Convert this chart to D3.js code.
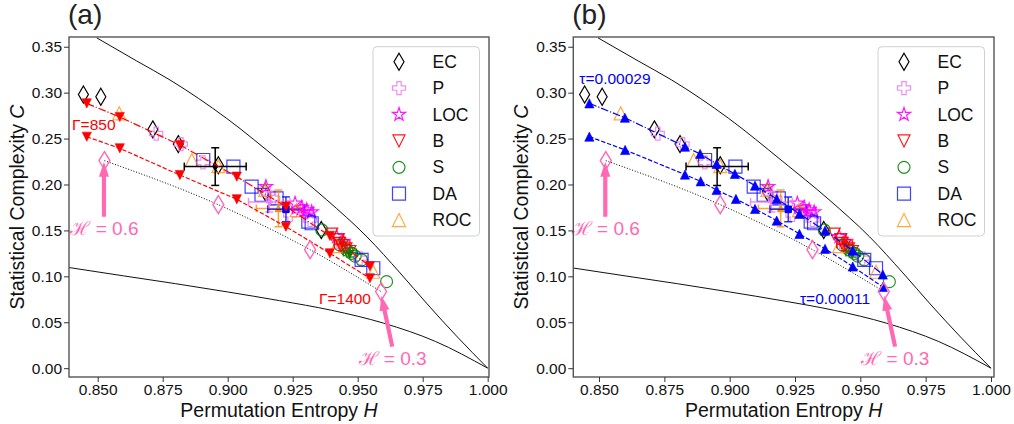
<!DOCTYPE html>
<html><head><meta charset="utf-8">
<script src="https://cdn.jsdelivr.net/npm/d3@7"></script>
<style>
body{margin:0;background:#fff;}
svg{display:block;}
text{font-family:"Liberation Sans",Arial,Helvetica,sans-serif;}
</style>
</head><body>
<svg id="chart" width="1014" height="424"></svg>
<script>
// ---------------- DATA ----------------
const xTicks = [0.850, 0.875, 0.900, 0.925, 0.950, 0.975, 1.000];
const yTicks = [0.00, 0.05, 0.10, 0.15, 0.20, 0.25, 0.30, 0.35];

// theoretical boundary curves
const maxH = [0.8496, 0.8650, 0.8778, 0.8996, 0.9201, 0.9380, 0.9536, 0.9663, 0.9767, 0.9880, 1.0000];
const maxC = [0.3597, 0.3345, 0.3138, 0.2720, 0.2256, 0.1835, 0.1429, 0.1037, 0.0700, 0.0350, 0.0000];
const minH = [0.8380, 0.8600, 0.8800, 0.9000, 0.9200, 0.9400, 0.9600, 0.9800, 1.0000];
const minC = [0.1100, 0.1005, 0.0920, 0.0830, 0.0735, 0.0630, 0.0490, 0.0290, 0.0000];

// reference (pink) points on dotted curve
const refH = [0.8526, 0.8964, 0.9317, 0.9590];
const refC = [0.2260, 0.1780, 0.1290, 0.0834];

// experimental classes
const classes = ["EC", "P", "LOC", "B", "S", "DA", "ROC"];
const EC_H  = [0.8445, 0.8512, 0.8712, 0.8810, 0.8964, 0.9144, 0.9360];
const EC_C  = [0.2980, 0.2956, 0.2600, 0.2440, 0.2210, 0.1920, 0.1505];
const P_H   = [0.8725, 0.8820, 0.8905, 0.9155, 0.9175, 0.9240, 0.9300, 0.9317, 0.9445, 0.9509];
const P_C   = [0.2555, 0.2440, 0.2241, 0.1905, 0.1850, 0.1668, 0.1700, 0.1614, 0.1323, 0.1197];
const LOC_H = [0.9147, 0.9259, 0.9285, 0.9304, 0.9323, 0.9419, 0.9445];
const LOC_C = [0.1976, 0.1795, 0.1750, 0.1723, 0.1700, 0.1432, 0.1378];
const B_H   = [0.9400, 0.9425, 0.9430, 0.9440, 0.9455, 0.9470];
const B_C   = [0.1460, 0.1400, 0.1360, 0.1335, 0.1300, 0.1270];
const S_H   = [0.9362, 0.9432, 0.9458, 0.9477, 0.9490, 0.9515, 0.9611];
const S_C   = [0.1505, 0.1340, 0.1287, 0.1250, 0.1220, 0.1180, 0.0942];
const DA_H  = [0.8906, 0.9022, 0.9092, 0.9130, 0.9188, 0.9310, 0.9323, 0.9515, 0.9560];
const DA_C  = [0.2267, 0.2194, 0.1976, 0.1886, 0.1850, 0.1595, 0.1578, 0.1180, 0.1088];
const ROC_H = [0.8583, 0.8862, 0.8964, 0.9144, 0.9265, 0.9419, 0.9560];
const ROC_C = [0.2775, 0.2267, 0.2200, 0.1940, 0.1720, 0.1330, 0.1050];

// class means with error bars
const meanClass = ["EC", "P", "ROC", "DA", "LOC", "B", "S"];
const meanH     = [0.8952, 0.9160, 0.9195, 0.9224, 0.9290, 0.9440, 0.9470];
const meanC     = [0.2195, 0.1810, 0.1740, 0.1730, 0.1720, 0.1350, 0.1260];
const meanXerr  = [0.0119, 0.0080, 0.0085, 0.0070, 0.0040, 0.0030, 0.0025];
const meanYerr  = [0.0205, 0.0110, 0.0200, 0.0135, 0.0060, 0.0070, 0.0050];

// model (a): Gamma series
const gammaHiH = [0.8458, 0.8585, 0.8816, 0.9035, 0.9224, 0.9393, 0.9547];
const gammaHiC = [0.2883, 0.2735, 0.2430, 0.2085, 0.1759, 0.1440, 0.1110];
const gammaLoH = [0.8458, 0.8585, 0.8816, 0.9035, 0.9224, 0.9393, 0.9547];
const gammaLoC = [0.2520, 0.2394, 0.2103, 0.1839, 0.1540, 0.1251, 0.0979];
// model (b): tau series
const tauHiH = [0.8463, 0.8599, 0.8829, 0.8887, 0.8950, 0.9020, 0.9097, 0.9180, 0.9267, 0.9365, 0.9471, 0.9586];
const tauHiC = [0.2884, 0.2727, 0.2412, 0.2333, 0.2224, 0.2115, 0.1988, 0.1843, 0.1680, 0.1498, 0.1280, 0.1020];
const tauLoH = [0.8463, 0.8600, 0.8829, 0.8889, 0.8950, 0.9024, 0.9097, 0.9180, 0.9267, 0.9365, 0.9471, 0.9586];
const tauLoC = [0.2521, 0.2376, 0.2108, 0.2035, 0.1940, 0.1843, 0.1734, 0.1607, 0.1462, 0.1300, 0.1107, 0.0884];

const panelLabels = ["(a)", "(b)"];
const gammaLabels = ["Γ=850", "Γ=1400"];
const tauLabels = ["τ=0.00029", "τ=0.00011"];
const refLabels = ["ℋ = 0.6", "ℋ = 0.3"];

// ---------------- STYLE / LAYOUT ----------------
const classData = {EC:[EC_H,EC_C], P:[P_H,P_C], LOC:[LOC_H,LOC_C], B:[B_H,B_C], S:[S_H,S_C], DA:[DA_H,DA_C], ROC:[ROC_H,ROC_C]};
function diamondPath(w,h){return `M0,${-h}L${w},0L0,${h}L${-w},0Z`;}
function triPath(a, up){return up ? `M0,${-a}L${a},${a}L${-a},${a}Z` : `M0,${a}L${a},${-a}L${-a},${-a}Z`;}
function squarePath(s){const h=s/2; return `M${-h},${-h}H${h}V${h}H${-h}Z`;}
function circlePath(r){return `M${r},0A${r},${r} 0 1,1 ${-r},0A${r},${r} 0 1,1 ${r},0Z`;}
function plusPath(s){const a=s/2,b=s/6; return `M${-b},${-a}H${b}V${-b}H${a}V${b}H${b}V${a}H${-b}V${b}H${-a}V${-b}H${-b}Z`;}
function starPath(R){const r=R*0.382; let p=""; for(let i=0;i<10;i++){const an=-Math.PI/2+i*Math.PI/5; const rr=i%2?r:R; p+=(i?"L":"M")+(rr*Math.cos(an)).toFixed(2)+","+(rr*Math.sin(an)).toFixed(2);} return p+"Z";}

const classStyle = {
  EC:  {path: diamondPath(5,8.5), small: diamondPath(2.6,3.6), color:"#000000", op:1},
  P:   {path: plusPath(13), small: plusPath(6), color:"#ee82ee", op:0.9},
  LOC: {path: starPath(7), small: starPath(3.5), color:"#ff00ff", op:0.9},
  B:   {path: triPath(6,false), small: triPath(3,false), color:"#ff0000", op:0.9},
  S:   {path: circlePath(6), small: circlePath(2.8), color:"#008000", op:0.85},
  DA:  {path: squarePath(13), small: squarePath(6.5), color:"#0000ff", op:0.75},
  ROC: {path: triPath(6.5,true), small: triPath(3.3,true), color:"#ff8c00", op:0.75}
};

const yTop = 37, yBot = 377;
const panels = [
  {x0:69, x1:489, xDom:[0.83896, 1.0005], label:panelLabels[0], color:"#ff0000", up:false,
   hi:[gammaHiH,gammaHiC], lo:[gammaLoH,gammaLoC], texts:[[gammaLabels[0],0.8485,0.2658],[gammaLabels[1],0.9451,0.0760]]},
  {x0:573.3, x1:994, xDom:[0.84016, 1.00115], label:panelLabels[1], color:"#0000ff", up:true,
   hi:[tauHiH,tauHiC], lo:[tauLoH,tauLoC], texts:[[tauLabels[0],0.8561,0.3158],[tauLabels[1],0.9403,0.0764]]}
];

const svg = d3.select("#chart");
svg.append("rect").attr("width",1014).attr("height",424).attr("fill","#fff");

panels.forEach((pn, pi) => {
  const x = d3.scaleLinear().domain(pn.xDom).range([pn.x0, pn.x1]);
  const y = d3.scaleLinear().domain([-0.0096, 0.3606]).range([yBot, yTop]);
  const g = svg.append("g");
  const clipId = "clip"+pi;
  svg.append("defs").append("clipPath").attr("id",clipId)
    .append("rect").attr("x",pn.x0).attr("y",yTop).attr("width",pn.x1-pn.x0).attr("height",yBot-yTop);
  const pg = g.append("g").attr("clip-path",`url(#${clipId})`);

  const line = (H,C,curve) => d3.line().x((d,i)=>x(H[i])).y((d,i)=>y(C[i])).curve(curve||d3.curveLinear)(H);

  // boundary curves
  pg.append("path").attr("d", line(maxH,maxC,d3.curveMonotoneX)).attr("fill","none").attr("stroke","#111").attr("stroke-width",1);
  pg.append("path").attr("d", line(minH,minC,d3.curveMonotoneX)).attr("fill","none").attr("stroke","#111").attr("stroke-width",1);
  // dotted reference
  pg.append("path").attr("d", line(refH,refC,d3.curveMonotoneX)).attr("fill","none").attr("stroke","#000").attr("stroke-width",1).attr("stroke-dasharray","1,1.8");

  // experimental data markers
  classes.forEach(cl => {
    const [H,C] = classData[cl]; const st = classStyle[cl];
    pg.append("g").selectAll("path").data(H).join("path")
      .attr("d", st.path).attr("transform",(d,i)=>`translate(${x(H[i])},${y(C[i])})`)
      .attr("fill","none").attr("stroke",st.color).attr("stroke-opacity",st.op).attr("stroke-width",1.2);
  });

  // error bars for means
  meanClass.forEach((cl,i) => {
    const st = classStyle[cl];
    const cx = x(meanH[i]), cy = y(meanC[i]);
    const xl = x(meanH[i]-meanXerr[i]), xr = x(meanH[i]+meanXerr[i]);
    const yt = y(meanC[i]+meanYerr[i]), yb = y(meanC[i]-meanYerr[i]);
    const eg = pg.append("g").attr("stroke",st.color).attr("stroke-opacity",Math.max(st.op,0.8)).attr("stroke-width",1.5);
    eg.append("line").attr("x1",xl).attr("x2",xr).attr("y1",cy).attr("y2",cy);
    eg.append("line").attr("x1",cx).attr("x2",cx).attr("y1",yt).attr("y2",yb);
    [[xl,cy,0],[xr,cy,0],[cx,yt,1],[cx,yb,1]].forEach(([px,py,v]) => {
      if (v) eg.append("line").attr("x1",px-4).attr("x2",px+4).attr("y1",py).attr("y2",py);
      else eg.append("line").attr("x1",px).attr("x2",px).attr("y1",py-4).attr("y2",py+4);
    });
    pg.append("path").attr("d", st.small).attr("transform",`translate(${cx},${cy})`)
      .attr("fill",st.color).attr("stroke",st.color).attr("stroke-width",1);
  });

  // model lines
  const mk = triPath(4.6, pn.up);
  [[pn.hi,"7.7,1.9,1.2,1.9"],[pn.lo,"4.4,1.9"]].forEach(([[H,C],dash]) => {
    pg.append("path").attr("d", line(H,C)).attr("fill","none").attr("stroke",pn.color).attr("stroke-width",1.2).attr("stroke-dasharray",dash);
    pg.append("g").selectAll("path").data(H).join("path").attr("d",mk)
      .attr("transform",(d,i)=>`translate(${x(H[i])},${y(C[i])})`).attr("fill",pn.color).attr("stroke",pn.color).attr("stroke-width",0.6);
  });

  // pink reference diamonds
  pg.append("g").selectAll("path").data(refH).join("path").attr("d",diamondPath(5.5,9))
    .attr("transform",(d,i)=>`translate(${x(refH[i])},${y(refC[i])})`)
    .attr("fill","none").attr("stroke","#ff69b4").attr("stroke-width",1.4);

  // arrows
  const arrows = [[0.8524,0.165,0.8524,0.2248],[0.9633,0.0235,0.9591,0.0790]];
  arrows.forEach(([h0,c0,h1,c1]) => {
    const X0=x(h0),Y0=y(c0),X1=x(h1),Y1=y(c1);
    const L=Math.hypot(X1-X0,Y1-Y0), ux=(X1-X0)/L, uy=(Y1-Y0)/L, nx=-uy, ny=ux;
    const hl=15, hw=5, sw=2.1;
    const bx=X1-ux*hl, by=Y1-uy*hl;
    const pts=[[X0+nx*sw,Y0+ny*sw],[bx+nx*sw,by+ny*sw],[bx+nx*hw,by+ny*hw],[X1,Y1],[bx-nx*hw,by-ny*hw],[bx-nx*sw,by-ny*sw],[X0-nx*sw,Y0-ny*sw]];
    pg.append("path").attr("d","M"+pts.map(p=>p.join(",")).join("L")+"Z").attr("fill","#ff69b4").attr("stroke","none");
  });

  // texts
  pn.texts.forEach(([t,h,c]) => {
    g.append("text").attr("x",x(h)).attr("y",y(c)).attr("text-anchor","middle").attr("dominant-baseline","central")
      .attr("font-size",15.5).attr("fill",pn.color).text(t);
  });
  [[refLabels[0],0.8526,0.1517],[refLabels[1],0.9634,0.0107]].forEach(([t,h,c]) => {
    g.append("text").attr("x",x(h)).attr("y",y(c)).attr("text-anchor","middle").attr("dominant-baseline","central")
      .attr("font-size",19).attr("font-family","DejaVu Sans").attr("fill","#ff69b4").text(t);
  });

  // frame
  g.append("rect").attr("x",pn.x0).attr("y",yTop).attr("width",pn.x1-pn.x0).attr("height",yBot-yTop)
    .attr("fill","none").attr("stroke","#555").attr("stroke-width",1.4);

  // axes
  const xa = g.append("g").attr("transform",`translate(0,${yBot})`)
    .call(d3.axisBottom(x).tickValues(xTicks).tickFormat(d3.format(".3f")).tickSize(5).tickSizeOuter(0).tickPadding(2));
  const ya = g.append("g").attr("transform",`translate(${pn.x0},0)`)
    .call(d3.axisLeft(y).tickValues(yTicks).tickFormat(d3.format(".2f")).tickSize(5).tickSizeOuter(0).tickPadding(2));
  [xa,ya].forEach(a => { a.select(".domain").remove(); a.selectAll("text").attr("font-size",15.5).attr("fill","#111").attr("font-family","Liberation Sans, Arial, sans-serif"); a.selectAll("line").attr("stroke","#333"); });

  // axis labels
  const xl = g.append("text").attr("x",(pn.x0+pn.x1)/2).attr("y",417).attr("text-anchor","middle").attr("font-size",19.5).attr("fill","#111");
  xl.append("tspan").text("Permutation Entropy ");
  xl.append("tspan").attr("font-style","italic").text("H");
  const ylx = pn.x0 - 52;
  const yl = g.append("text").attr("transform",`translate(${ylx},${(yTop+yBot)/2}) rotate(-90)`).attr("text-anchor","middle")
    .attr("dominant-baseline","central").attr("font-size",19.5).attr("fill","#111");
  yl.append("tspan").text("Statistical Complexity ");
  yl.append("tspan").attr("font-style","italic").text("C");

  // panel label
  g.append("text").attr("x",pn.x0-1).attr("y",24).attr("font-size",28).attr("fill","#222").text(pn.label);

  // legend
  const bw=106.5, bx=pn.x1-9.5-bw, by=46.7, bh=189.3;
  const lg = g.append("g");
  lg.append("rect").attr("x",bx).attr("y",by).attr("width",bw).attr("height",bh).attr("rx",4)
    .attr("fill","#fff").attr("fill-opacity",0.85).attr("stroke","#d0d0d0").attr("stroke-width",1);
  classes.forEach((cl,i) => {
    const st=classStyle[cl]; const cy=by+15+i*26.4;
    lg.append("path").attr("d",st.path).attr("transform",`translate(${bx+26},${cy})`)
      .attr("fill","none").attr("stroke",st.color).attr("stroke-opacity",st.op).attr("stroke-width",1.2);
    lg.append("text").attr("x",bx+59.5).attr("y",cy).attr("dominant-baseline","central").attr("font-size",17.5).attr("fill","#111").text(cl);
  });
});
</script>
</body></html>
